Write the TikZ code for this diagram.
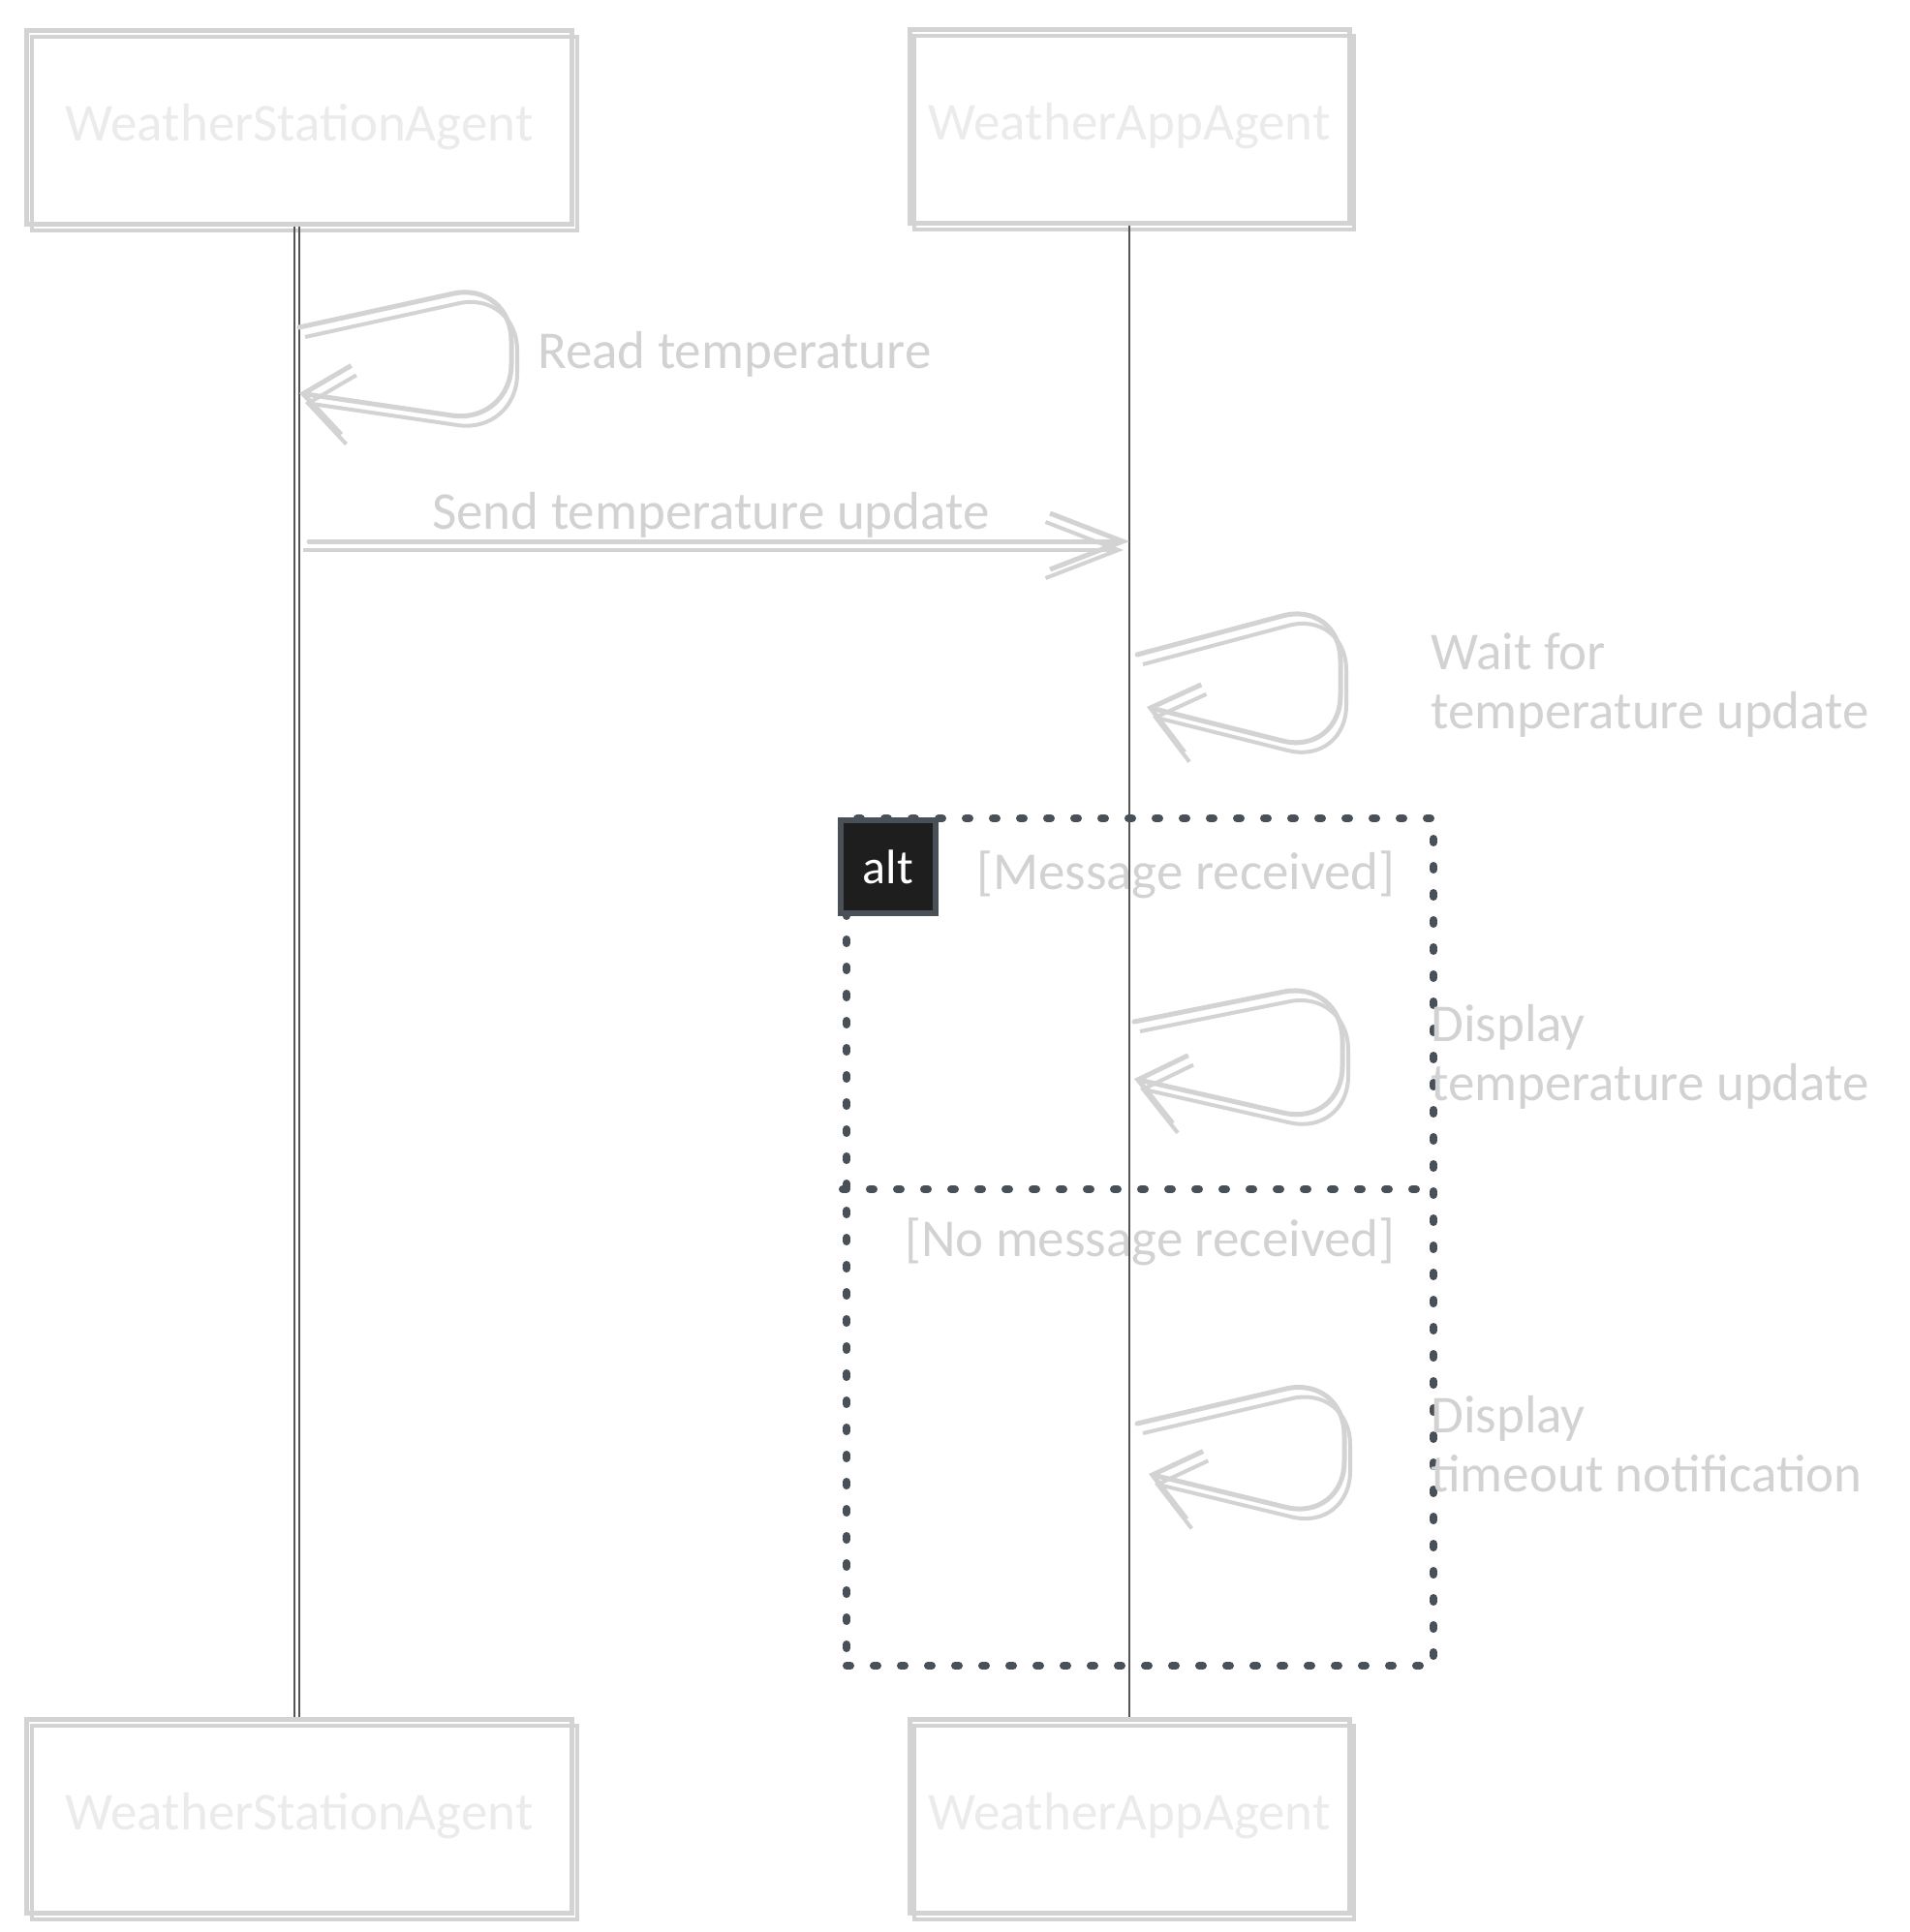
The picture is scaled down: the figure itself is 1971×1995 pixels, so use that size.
\documentclass[tikz,border=0pt]{standalone}
\usepackage{fontspec}
\setmainfont{Carlito}
\usetikzlibrary{arrows.meta}
\definecolor{sk}{HTML}{D3D3D3}
\definecolor{acttext}{HTML}{EBEBEB}
\definecolor{lbltext}{HTML}{D2D2D2}
\definecolor{life}{HTML}{555555}
\definecolor{framecol}{HTML}{495057}
\definecolor{tagfill}{HTML}{1E1E1E}
\newcommand\lblfont{\fontsize{55}{61}\selectfont}
\newcommand\tagfont{\fontsize{50}{56}\selectfont}
\begin{document}
\begin{tikzpicture}[x=1pt,y=-1pt,
  actor/.style={draw=sk, line width=5pt, text=acttext, font=\lblfont,
    minimum width=#1, minimum height=200pt, inner sep=0pt,
    preaction={draw=sk, line width=4pt, transform canvas={shift={(5pt,-7pt)}}}},
  lifeline/.style={draw=life, line width=2.5pt},
  lifedouble/.style={draw=life, line width=2.5pt,
    preaction={draw=life, line width=2pt, transform canvas={shift={(-5pt,0pt)}}}},
  lbl/.style={text=lbltext, font=\lblfont, inner sep=0pt},
  loopar/.style={draw=sk, line width=5pt, rounded corners=62pt, line cap=round, line join=round,
    -{Straight Barb[length=45pt,width=72pt]},
    preaction={draw=sk, line width=4pt, rounded corners=62pt,
      -{Straight Barb[length=45pt,width=72pt]}, transform canvas={shift={(6pt,-10pt)}}}},
  msgar/.style={draw=sk, line width=5pt, line cap=round,
    -{Straight Barb[length=75pt,width=58pt]},
    preaction={draw=sk, line width=4pt, transform canvas={shift={(-6pt,-9pt)}}}},
  altframe/.style={draw=framecol, line width=8pt, line cap=round, dash pattern=on 4pt off 24pt},
  alttag/.style={draw=framecol, fill=tagfill, line width=6pt, text=white, font=\tagfont,
    minimum width=98pt, minimum height=96pt, inner sep=0pt}
]
\useasboundingbox (0,0) rectangle (1971,1995);

% actors
\node[actor=563pt] (wsaT) at (309,131) {WeatherStationAgent};
\node[actor=454pt] (waaT) at (1166,130) {WeatherAppAgent};
\node[actor=563pt] (wsaB) at (309,1875) {WeatherStationAgent};
\node[actor=454pt] (waaB) at (1166,1875) {WeatherAppAgent};

% lifelines
\draw[lifedouble] (wsaT.south) -- (wsaB.north);
\draw[lifeline] (waaT.south) -- (waaB.north);

% alt frame
\node[altframe, minimum width=606pt, minimum height=875pt, inner sep=0pt] (alt) at (1177,1282.5) {};
\coordinate (divy) at (0,1228);
\draw[altframe] (alt.west |- divy) -- (alt.east |- divy);
\node[alttag] (tag) at (917,895) {alt};

% self message: Read temperature
\coordinate (s1) at (309,338);
\coordinate (e1) at (309,406);
\draw[loopar] (s1) -- (528,290) -- (528,438) -- (e1);
\node[lbl, anchor=base west] (l1) at (555,380) {Read temperature};

% message
\coordinate (m1s) at (319,559);
\coordinate (m1e) at (1166,559);
\draw[msgar] (m1s) -- (m1e);
\node[lbl, anchor=base] (l2) at (734,546) {Send temperature update};

% self message: Wait for temperature update
\coordinate (s2) at (1174,676);
\coordinate (e2) at (1184,730);
\draw[loopar] (s2) -- (1384,620) -- (1384,780) -- (e2);
\node[lbl, anchor=west, align=left] (l3) at (1477,707) {Wait for\\temperature update};

% alt guards
\node[lbl, anchor=base west] (g1) at (1008,918) {[Message received]};
\node[lbl, anchor=base west] (g2) at (934,1297) {[No message received]};

% self message: Display temperature update
\coordinate (s3) at (1171,1055);
\coordinate (e3) at (1171,1114);
\draw[loopar] (s3) -- (1386,1012) -- (1386,1163) -- (e3);
\node[lbl, anchor=west, align=left] (l4) at (1477,1091) {Display\\temperature update};

% self message: Display timeout notification
\coordinate (s4) at (1174,1470);
\coordinate (e4) at (1186,1522);
\draw[loopar] (s4) -- (1388,1420) -- (1388,1571) -- (e4);
\node[lbl, anchor=west, align=left] (l5) at (1477,1491) {Display\\timeout notification};
\end{tikzpicture}
\end{document}
